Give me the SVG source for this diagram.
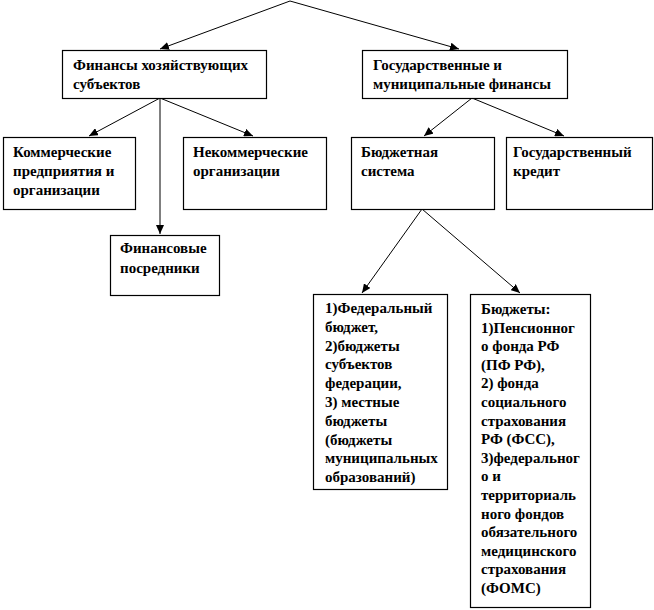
<svg xmlns="http://www.w3.org/2000/svg" width="654" height="610" viewBox="0 0 654 610">
<style>
.box{fill:#fff;stroke:#000;stroke-width:1.2}
.t{font-family:'Liberation Serif','DejaVu Serif',serif;font-weight:bold;font-size:15px;fill:#000}
.c{stroke:#000;stroke-width:1;fill:none;marker-end:url(#ah)}
</style>
<defs>
<marker id="ah" markerUnits="userSpaceOnUse" markerWidth="10" markerHeight="8" refX="9" refY="4" orient="auto">
<path d="M0,0 L9,4 L0,8 Z" fill="#000"/>
</marker>
</defs>
<rect width="654" height="610" fill="#fff"/>
<g id="connectors">
<line class="c" x1="290" y1="1" x2="160" y2="49"/>
<line class="c" x1="290" y1="1" x2="459" y2="49"/>
<line class="c" x1="160" y1="98" x2="89" y2="136"/>
<line class="c" x1="160" y1="98" x2="253" y2="136"/>
<line class="c" x1="160" y1="98" x2="160" y2="234"/>
<line class="c" x1="472" y1="98" x2="424" y2="136"/>
<line class="c" x1="472" y1="98" x2="564" y2="136"/>
<line class="c" x1="422" y1="209" x2="362" y2="293"/>
<line class="c" x1="422" y1="209" x2="520" y2="293"/>
</g>
<g id="n-fin-subj">
<rect class="box" x="62.5" y="50.5" width="204" height="48"/>
<text class="t" x="73" y="70">Финансы хозяйствующих</text>
<text class="t" x="73" y="89">субъектов</text>
</g>
<g id="n-gos-mun">
<rect class="box" x="362.5" y="50.5" width="205" height="48"/>
<text class="t" x="373" y="70">Государственные и</text>
<text class="t" x="373" y="89">муниципальные финансы</text>
</g>
<g id="n-kommerch">
<rect class="box" x="3.5" y="137.5" width="132" height="72"/>
<text class="t" x="13" y="157">Коммерческие</text>
<text class="t" x="13" y="176">предприятия и</text>
<text class="t" x="13" y="195">организации</text>
</g>
<g id="n-nekommerch">
<rect class="box" x="183.5" y="137.5" width="143" height="72"/>
<text class="t" x="193" y="157">Некоммерческие</text>
<text class="t" x="193" y="176">организации</text>
</g>
<g id="n-posredniki">
<rect class="box" x="110.5" y="235.5" width="109" height="60"/>
<text class="t" x="120" y="253">Финансовые</text>
<text class="t" x="120" y="273">посредники</text>
</g>
<g id="n-budget-system">
<rect class="box" x="351.5" y="137.5" width="143" height="72"/>
<text class="t" x="361" y="157">Бюджетная</text>
<text class="t" x="361" y="176">система</text>
</g>
<g id="n-gos-credit">
<rect class="box" x="506.5" y="137.5" width="146" height="72"/>
<text class="t" x="513" y="157">Государственный</text>
<text class="t" x="513" y="176">кредит</text>
</g>
<g id="n-budgets">
<rect class="box" x="313.5" y="294.5" width="134" height="195"/>
<text class="t" x="325" y="313">1)Федеральный</text>
<text class="t" x="325" y="331.8">бюджет,</text>
<text class="t" x="325" y="350.6">2)бюджеты</text>
<text class="t" x="325" y="369.4">субъектов</text>
<text class="t" x="325" y="388.2">федерации,</text>
<text class="t" x="325" y="407">3) местные</text>
<text class="t" x="325" y="425.8">бюджеты</text>
<text class="t" x="325" y="444.6">(бюджеты</text>
<text class="t" x="325" y="463.4">муниципальных</text>
<text class="t" x="325" y="482.2">образований)</text>
</g>
<g id="n-funds">
<rect class="box" x="470.5" y="294.5" width="120" height="313"/>
<text class="t" x="481" y="314">Бюджеты:</text>
<text class="t" x="481" y="332.6">1)Пенсионног</text>
<text class="t" x="481" y="351.2">о фонда РФ</text>
<text class="t" x="481" y="369.8">(ПФ РФ),</text>
<text class="t" x="481" y="388.4">2) фонда</text>
<text class="t" x="481" y="407">социального</text>
<text class="t" x="481" y="425.6">страхования</text>
<text class="t" x="481" y="444.2">РФ (ФСС),</text>
<text class="t" x="481" y="462.8">3)федеральног</text>
<text class="t" x="481" y="481.4">о и</text>
<text class="t" x="481" y="500">территориаль</text>
<text class="t" x="481" y="518.6">ного фондов</text>
<text class="t" x="481" y="537.2">обязательного</text>
<text class="t" x="481" y="555.8">медицинского</text>
<text class="t" x="481" y="574.4">страхования</text>
<text class="t" x="481" y="593">(ФОМС)</text>
</g>
</svg>
